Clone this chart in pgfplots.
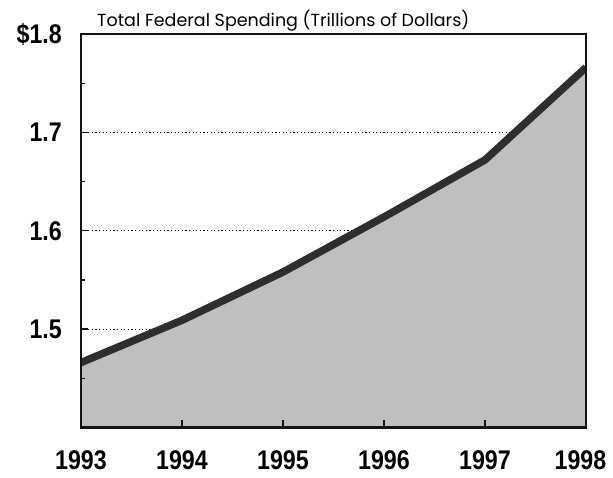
\documentclass[border=0pt]{standalone}
\usepackage{pgfplots}
\pgfplotsset{compat=1.18}
\usepackage{fontspec}
\usepackage{graphicx}
\setmainfont{Liberation Sans}
\newfontfamily\titlefont{Poppins}
\definecolor{frame}{RGB}{20,20,20}
\newcommand{\tl}[1]{\scalebox{0.86}[1]{\fontsize{27}{27}\selectfont\bfseries #1}}
\begin{document}
\begin{tikzpicture}
\begin{axis}[
  scale only axis,
  width=505pt, height=393.5pt,
  xmin=1993, xmax=1998,
  ymin=1.4, ymax=1.8,
  axis on top,
  axis line style={frame, line width=1.5pt},
  xtick={1993,1994,1995,1996,1997,1998},
  xticklabels={\tl{1993},\tl{1994},\tl{1995},\tl{1996},\tl{1997},{\hspace*{-11pt}\tl{1998}}},
  ytick={1.5,1.6,1.7,1.8},
  yticklabels={\tl{1.5},\tl{1.6},\tl{1.7},\tl{\$1.8}},
  minor ytick={1.45,1.55,1.65,1.75},
  xtick pos=bottom, ytick pos=left,
  tick align=inside,
  major tick length=7pt, minor tick length=4pt,
  tick style={frame, line width=1.3pt},
  yticklabel style={anchor=east, inner sep=0pt, xshift=-19pt},
  xticklabel style={anchor=north, inner sep=0pt, yshift=-23pt},
]
\addplot[black, line width=1.2pt, dash pattern=on 1.2pt off 2.4pt, forget plot] coordinates {(1993,1.5) (1998,1.5)};
\addplot[black, line width=1.2pt, dash pattern=on 1.2pt off 2.4pt, forget plot] coordinates {(1993,1.6) (1998,1.6)};
\addplot[black, line width=1.2pt, dash pattern=on 1.2pt off 2.4pt, forget plot] coordinates {(1993,1.7) (1998,1.7)};
\addplot[draw=none, fill=black!25] coordinates {
  (1993,1.466) (1994,1.509) (1995,1.558) (1996,1.614) (1997,1.672) (1998,1.766)
} \closedcycle;
\addplot[black!82, line width=7.5pt, line join=round] coordinates {
  (1993,1.466) (1994,1.509) (1995,1.558) (1996,1.614) (1997,1.672) (1998,1.766)
};
\coordinate (sw) at (rel axis cs:0,0);
\coordinate (ne) at (rel axis cs:1,1);
\coordinate (nw) at (rel axis cs:0,1);
\end{axis}
\draw[frame, line width=2.2pt] (sw) -- (sw -| ne) -- (ne) -- (nw) -- cycle;
\node[anchor=base west, inner sep=0pt, font=\titlefont\fontsize{17.5}{17.5}\selectfont] at ([xshift=16pt, yshift=7pt]nw) {Total Federal Spending (Trillions of Dollars)};
\pgfresetboundingbox
\path ([xshift=-81pt, yshift=-50.5pt]sw) rectangle ([xshift=27pt, yshift=34pt]ne);
\end{tikzpicture}
\end{document}
